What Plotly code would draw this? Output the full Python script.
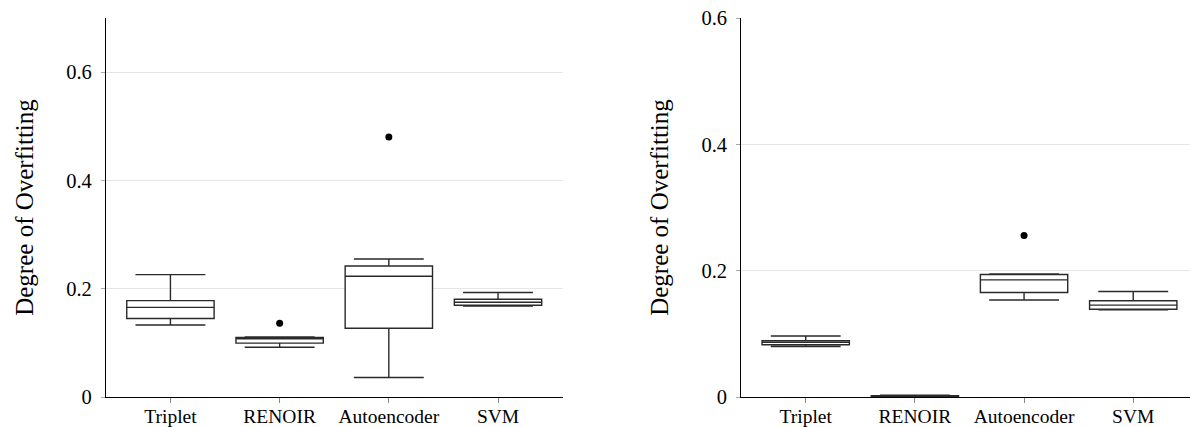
import plotly.graph_objects as go

categories = ["Triplet", "RENOIR", "Autoencoder", "SVM"]
positions = [1, 2, 3, 4]

# Left panel statistics
left_lower = [0.133, 0.092, 0.036, 0.168]
left_q1 = [0.145, 0.0995, 0.127, 0.1695]
left_median = [0.1655, 0.1075, 0.223, 0.175]
left_q3 = [0.178, 0.110, 0.242, 0.1805]
left_upper = [0.226, 0.111, 0.255, 0.193]
left_outlier_x = [2, 3]
left_outlier_y = [0.136, 0.480]

# Right panel statistics
right_lower = [0.080, 0.0, 0.1535, 0.138]
right_q1 = [0.0828, 0.0005, 0.1655, 0.139]
right_median = [0.0865, 0.001, 0.1855, 0.1455]
right_q3 = [0.089, 0.002, 0.194, 0.1523]
right_upper = [0.0965, 0.003, 0.195, 0.167]
right_outlier_x = [3]
right_outlier_y = [0.2555]

tick_vals = [0, 0.2, 0.4, 0.6]
tick_text = ["0", "0.2", "0.4", "0.6"]

FONT = "Liberation Serif"
BOX_LINE = "#2a2a2a"

fig = go.Figure()

def add_panel(xa, ya, lo, q1, med, q3, up, ox, oy):
    fig.add_trace(go.Box(
        x=positions, q1=q1, median=med, q3=q3, lowerfence=lo, upperfence=up,
        width=0.8, whiskerwidth=0.8, fillcolor="white",
        line=dict(color=BOX_LINE, width=1.4), boxpoints=False,
        xaxis=xa, yaxis=ya, showlegend=False, hoverinfo="skip"))
    fig.add_trace(go.Scatter(
        x=ox, y=oy, mode="markers",
        marker=dict(color="black", size=7),
        xaxis=xa, yaxis=ya, showlegend=False, hoverinfo="skip"))

add_panel("x", "y", left_lower, left_q1, left_median, left_q3, left_upper,
          left_outlier_x, left_outlier_y)
add_panel("x2", "y2", right_lower, right_q1, right_median, right_q3, right_upper,
          right_outlier_x, right_outlier_y)

W, H = 1190, 427
xcommon = dict(
    tickvals=positions, ticktext=categories, ticks="outside", ticklen=5,
    tickcolor="#888888", tickwidth=1, showline=True, linecolor="black",
    linewidth=1.2, showgrid=False, zeroline=False, automargin=False,
    tickfont=dict(family=FONT, size=19.5, color="black"),
    ticklabelstandoff=-4,
)
ycommon = dict(
    tickvals=tick_vals, ticktext=tick_text, ticks="outside", ticklen=4,
    tickcolor="#aaaaaa", showline=True, linecolor="black", linewidth=1.2,
    showgrid=True, gridcolor="#e6e6e6", gridwidth=1, zeroline=False,
    automargin=False,
    tickfont=dict(family=FONT, size=20.5, color="black"),
    ticklabelstandoff=5,
    title=dict(text="Degree of Overfitting",
               font=dict(family=FONT, size=25, color="black"), standoff=25),
)

fig.update_layout(
    width=W, height=H,
    font=dict(family=FONT, color="black"),
    margin=dict(l=0, r=0, t=18, b=30),
    paper_bgcolor="white", plot_bgcolor="white",
    xaxis=dict(domain=[106 / W, 563 / W], range=[0.41, 4.595], anchor="y", **xcommon),
    yaxis=dict(domain=[0, 1], range=[0, 0.7], anchor="x", **ycommon),
    xaxis2=dict(domain=[741.3 / W, 1.0], range=[0.41, 4.52], anchor="y2", **xcommon),
    yaxis2=dict(domain=[0, 1], range=[0, 0.6], anchor="x2", **ycommon),
)

fig.write_html("out.html")
